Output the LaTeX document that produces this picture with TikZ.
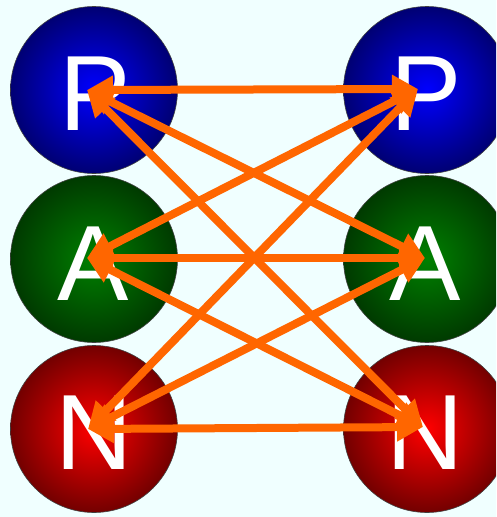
\documentclass[tikz,border=0pt]{standalone}
\usepackage{fontspec}
\setmainfont{Liberation Sans}
\usetikzlibrary{arrows.meta}
\definecolor{bg}{RGB}{240,255,255}
\definecolor{arrowor}{RGB}{255,102,0}
\definecolor{bluein}{RGB}{0,0,255}
\definecolor{blueout}{RGB}{0,0,115}
\definecolor{greenin}{RGB}{0,128,0}
\definecolor{greenout}{RGB}{0,58,0}
\definecolor{redin}{RGB}{255,0,0}
\definecolor{redout}{RGB}{115,0,0}
\tikzset{
  ballnode/.style={circle, minimum size=167pt, inner sep=0pt, draw=black!75, line width=0.6pt, shading=radial},
  blueball/.style={ballnode, inner color=bluein, outer color=blueout},
  greenball/.style={ballnode, inner color=greenin, outer color=greenout},
  redball/.style={ballnode, inner color=redin, outer color=redout},
  letter/.style={anchor=base, text=white, inner sep=0pt, font=\fontsize{107}{107}\selectfont},
  link/.style={draw=arrowor, line width=8pt,
    {Triangle[length=26pt,width=27pt]}-{Triangle[length=26pt,width=27pt]}}
}
\begin{document}
\begin{tikzpicture}[x=1pt,y=-1pt]
\useasboundingbox (0,0) rectangle (496,517);
\clip (0,0) rectangle (496,517);
\fill[bg] (0,0) rectangle (496,517);
% circles
\node[blueball]  (lp) at (94,90)  {};
\node[greenball] (la) at (94,259) {};
\node[redball]   (ln) at (94,429) {};
\node[blueball]  (rp) at (427,90)  {};
\node[greenball] (ra) at (427,259) {};
\node[redball]   (rn) at (427,429) {};
% letters
\node[letter] (lpt) at (95,130) {P};
\node[letter] (lat) at (93,300) {A};
\node[letter] (lnt) at (94,469) {N};
\node[letter] (rpt) at (426.5,130) {P};
\node[letter] (rat) at (425,300) {A};
\node[letter] (rnt) at (425,469) {N};
% arrow end points
\coordinate (lpT) at (87,90);
\coordinate (laT) at (87,258);
\coordinate (lnT) at (88,429);
\coordinate (rpT) at (418,89);
\coordinate (raT) at (425,258);
\coordinate (rnT) at (423,427);
% connectors
\draw[link] (lpT) -- (rpT);
\draw[link] (lpT) -- (raT);
\draw[link] (lpT) -- (rnT);
\draw[link] (laT) -- (rpT);
\draw[link] (laT) -- (raT);
\draw[link] (laT) -- (rnT);
\draw[link] (lnT) -- (rpT);
\draw[link] (lnT) -- (raT);
\draw[link] (lnT) -- (rnT);
\end{tikzpicture}
\end{document}
